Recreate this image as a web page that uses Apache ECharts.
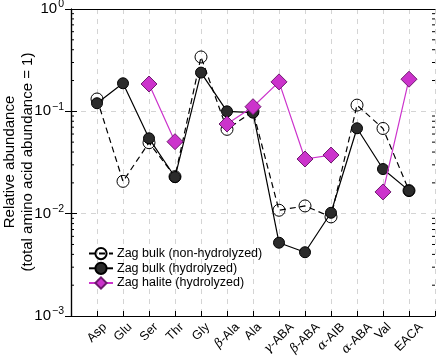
<!DOCTYPE html>
<html><head><meta charset="utf-8">
<script src="https://cdn.jsdelivr.net/npm/echarts@6/dist/echarts.min.js"></script>
<style>html,body{margin:0;padding:0;background:#fff}#c{width:436px;height:356px}</style>
</head><body><div id="c"></div>
<script>
const categories = ['Asp','Glu','Ser','Thr','Gly','β-Ala','Ala','γ-ABA','β-ABA','α-AIB','α-ABA','Val','EACA'];
const bulkNonHydro = [0.132, 0.0207, 0.0494, 0.023, 0.34, 0.0667, 0.1, 0.0108, 0.0119, 0.0093, 0.115, 0.068, 0.0168];
const bulkHydro    = [0.12, 0.188, 0.0545, 0.0228, 0.239, 0.1, 0.097, 0.0052, 0.0042, 0.0102, 0.0683, 0.0273, 0.0168];
const halite       = [null, null, 0.185, 0.0505, null, 0.0752, 0.111, 0.194, 0.0342, 0.0374, null, 0.0163, 0.206];
const yTicks = [0.001, 0.01, 0.1, 1];
const minorTicks = [];
[0.001, 0.01, 0.1].forEach(d => { for (let k = 2; k <= 9; k++) minorTicks.push(+(d * k).toPrecision(3)); });
const yTitle = 'Relative abundance\n(total amino acid abundance = 1)';

const FONT = 'Liberation Sans';
const GFONT = 'DejaVu Serif';
const LSIZE = 12.5;
const toXY = arr => arr.map((v, i) => [i + 1, v]);

const ctx = document.createElement('canvas').getContext('2d');
function measure(font, s) { ctx.font = font; return ctx.measureText(s).width; }
function splitName(name) {
  const m = name.match(/^([αβγ])(.*)$/);
  return m ? { g: m[1], t: m[2] } : { g: '', t: name };
}
function labelWidth(name) {
  const p = splitName(name);
  return (p.g ? measure('italic ' + LSIZE + 'px "' + GFONT + '"', p.g) : 0) + measure(LSIZE + 'px "' + FONT + '"', p.t);
}
function labelRich(name) {
  const p = splitName(name);
  return (p.g ? '{g|' + p.g + '}' : '') + '{t|' + p.t + '}';
}
function expLabel(v) {
  const e = Math.round(Math.log10(v));
  return '{b|10}{s|' + (e < 0 ? '−' + (-e) : e) + '}';
}

const chart = echarts.init(document.getElementById('c'));
chart.setOption({
  animation: false,
  textStyle: { fontFamily: FONT },
  grid: { left: 71, right: 1, top: 9, bottom: 40, containLabel: false, outerBoundsMode: 'none' },
  graphic: [{
    type: 'text', x: 19, y: 162, rotation: Math.PI / 2, silent: true,
    style: { text: yTitle, fontFamily: FONT, fontSize: 15, lineHeight: 18, fill: '#000', align: 'center', verticalAlign: 'middle' }
  }],
  legend: {
    data: ['Zag bulk (non-hydrolyzed)', 'Zag bulk (hydrolyzed)', 'Zag halite (hydrolyzed)'],
    orient: 'vertical', left: 83, top: 242, itemWidth: 24, itemHeight: 14, itemGap: 1.5,
    textStyle: { fontFamily: FONT, fontSize: 12.5, color: '#000', padding: [0, 0, 0, -1] }
  },
  xAxis: [{
    type: 'value', min: 0, max: 14, interval: 1,
    axisLine: { lineStyle: { color: '#000', width: 1.2 } },
    axisTick: { inside: true, length: 5, lineStyle: { color: '#000' } },
    axisLabel: { show: false },
    splitLine: { show: true, lineStyle: { color: '#d4d4d4', type: [5, 5], width: 1 } }
  }, {
    type: 'value', min: 0, max: 14, interval: 1, position: 'top',
    axisLine: { show: true, onZero: false, lineStyle: { color: '#000', width: 1.2 } },
    axisTick: { show: false }, axisLabel: { show: false }, splitLine: { show: false }
  }],
  yAxis: [{
    type: 'log', logBase: 10, min: 0.001, max: 1,
    axisLine: { show: true, lineStyle: { color: '#000', width: 1.2 } },
    axisTick: { inside: true, length: 6, lineStyle: { color: '#000' } },
    axisLabel: {
      margin: 7, formatter: expLabel,
      rich: {
        b: { fontFamily: FONT, fontSize: 15, color: '#000' },
        s: { fontFamily: FONT, fontSize: 10.5, color: '#000', verticalAlign: 'bottom', padding: [0, 0, 9, 1] }
      }
    },
    splitLine: { show: true, lineStyle: { color: '#d4d4d4', type: [5, 5], width: 1 } }
  }, {
    type: 'log', logBase: 10, min: 0.001, max: 1, position: 'right',
    axisLine: { show: true, lineStyle: { color: '#000', width: 1.2 } },
    axisTick: { inside: true, length: 6, lineStyle: { color: '#000' } },
    axisLabel: { show: false }, splitLine: { show: false }
  }],
  series: [{
    type: 'custom', silent: true, xAxisIndex: 0, yAxisIndex: 0, z: 1,
    data: minorTicks.map(v => [0, v]),
    renderItem: (params, api) => {
      const l = api.coord([0, api.value(1)]);
      const r = api.coord([14, api.value(1)]);
      return { type: 'group', children: [
        { type: 'line', shape: { x1: l[0], y1: l[1], x2: l[0] + 3, y2: l[1] }, style: { stroke: '#000', lineWidth: 1 } },
        { type: 'line', shape: { x1: r[0] - 3, y1: r[1], x2: r[0], y2: r[1] }, style: { stroke: '#000', lineWidth: 1 } }
      ] };
    }
  }, {
    type: 'custom', silent: true, clip: false, xAxisIndex: 0, yAxisIndex: 0, z: 10,
    data: categories.map((c, i) => [i + 1, 0.001]),
    renderItem: (params, api) => {
      const idx = api.value(0);
      const name = categories[idx - 1];
      const p = api.coord([idx, api.value(1)]);
      const w = labelWidth(name);
      const h = LSIZE * 0.95;
      const half = (w + h) * Math.SQRT1_2 / 2;
      return {
        type: 'text', x: p[0], y: p[1] + 5 + half, rotation: Math.PI / 4,
        style: {
          text: labelRich(name), align: 'center', verticalAlign: 'middle',
          rich: {
            t: { fontFamily: FONT, fontSize: LSIZE, fill: '#000' },
            g: { fontFamily: GFONT, fontStyle: 'italic', fontSize: LSIZE, fill: '#000' }
          }
        }
      };
    }
  }, {
    name: 'Zag bulk (non-hydrolyzed)', type: 'line', data: toXY(bulkNonHydro), z: 3,
    symbol: 'circle', symbolSize: 12,
    lineStyle: { color: '#000', width: 1.2, type: [6, 4] },
    itemStyle: { color: 'rgba(255,255,255,0)', borderColor: '#000', borderWidth: 1 }
  }, {
    name: 'Zag bulk (hydrolyzed)', type: 'line', data: toXY(bulkHydro), z: 4,
    symbol: 'circle', symbolSize: 11,
    lineStyle: { color: '#000', width: 1.2 },
    itemStyle: { color: '#2b2b2b', borderColor: '#000', borderWidth: 1 }
  }, {
    name: 'Zag halite (hydrolyzed)', type: 'line', data: toXY(halite), z: 5,
    connectNulls: false, symbol: 'diamond', symbolSize: 16,
    lineStyle: { color: '#cc33cc', width: 1.2 },
    itemStyle: { color: '#cc33cc', borderColor: '#6e1a6e', borderWidth: 1 }
  }]
});
</script></body></html>
